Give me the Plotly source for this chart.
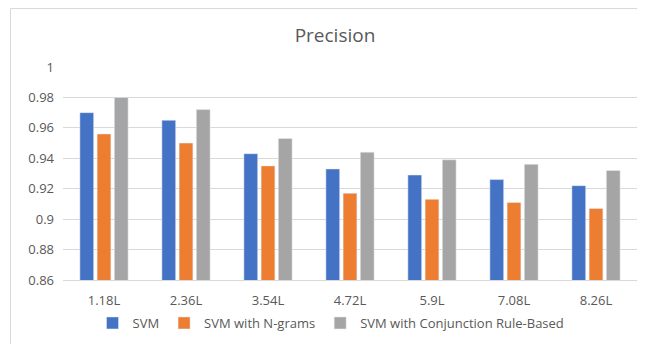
import plotly.graph_objects as go

categories = ["1.18L", "2.36L", "3.54L", "4.72L", "5.9L", "7.08L", "8.26L"]
svm = [0.970, 0.965, 0.943, 0.933, 0.929, 0.926, 0.922]
svm_ngrams = [0.956, 0.950, 0.935, 0.917, 0.913, 0.911, 0.907]
svm_conj = [0.980, 0.972, 0.953, 0.944, 0.939, 0.936, 0.932]
y_ticks = [0.86, 0.88, 0.9, 0.92, 0.94, 0.96, 0.98, 1]
y_tick_text = ["0.86", "0.88", "0.9", "0.92", "0.94", "0.96", "0.98", "1"]

FONT = "Open Sans"
TXT = "#595959"

fig = go.Figure()
fig.add_trace(go.Bar(x=categories, y=svm, name="SVM", marker_color="#4472C4"))
fig.add_trace(go.Bar(x=categories, y=svm_ngrams, name="SVM with N-grams", marker_color="#ED7D31"))
fig.add_trace(go.Bar(x=categories, y=svm_conj, name="SVM with Conjunction Rule-Based", marker_color="#A5A5A5"))

# page body has an 8px margin; the figure is sized/positioned to compensate (no scrollbars)
W, H = 629, 336
ml, mr, mt, mb = 55, 0, 59, 64
pw, ph = W - ml - mr, H - mt - mb

def px_to_paper_x(px):
    return (px - ml) / pw

def px_to_paper_y(py):
    return (H - mb - py) / ph

frame = dict(color="#D9D9D9", width=1)

fig.update_layout(
    width=W, height=H,
    margin=dict(l=ml, r=mr, t=mt, b=mb, autoexpand=False),
    paper_bgcolor="white", plot_bgcolor="white",
    font=dict(family=FONT, color=TXT, size=13),
    title=dict(text="Precision", x=327 / W, xanchor="center", y=1 - 27 / H, yanchor="middle",
               font=dict(size=19, color=TXT, family=FONT)),
    barmode="group", bargap=0.37, bargroupgap=0.2,
    showlegend=True,
    legend=dict(orientation="h", x=px_to_paper_x(323), xanchor="center",
                y=px_to_paper_y(315), yanchor="middle",
                font=dict(size=13, color=TXT, family=FONT), itemwidth=30,
                traceorder="normal"),
    xaxis=dict(showgrid=False, showline=True, linecolor="#D9D9D9", linewidth=1,
               ticks="", tickfont=dict(size=13, color=TXT), ticklabelstandoff=8),
    yaxis=dict(range=[0.86, 1], tickvals=y_ticks, ticktext=y_tick_text,
               showgrid=True, gridcolor="#D9D9D9", gridwidth=1, zeroline=False,
               showline=False, ticks="", tickfont=dict(size=13, color=TXT),
               ticklabelstandoff=8),
    shapes=[
        dict(type="line", xref="paper", yref="paper",
             x0=px_to_paper_x(2.5), x1=px_to_paper_x(W),
             y0=px_to_paper_y(0.5), y1=px_to_paper_y(0.5), line=frame, layer="below"),
        dict(type="line", xref="paper", yref="paper",
             x0=px_to_paper_x(2.5), x1=px_to_paper_x(2.5),
             y0=px_to_paper_y(0.5), y1=px_to_paper_y(H), line=frame, layer="below"),
    ],
)

fig.write_html("out.html")
